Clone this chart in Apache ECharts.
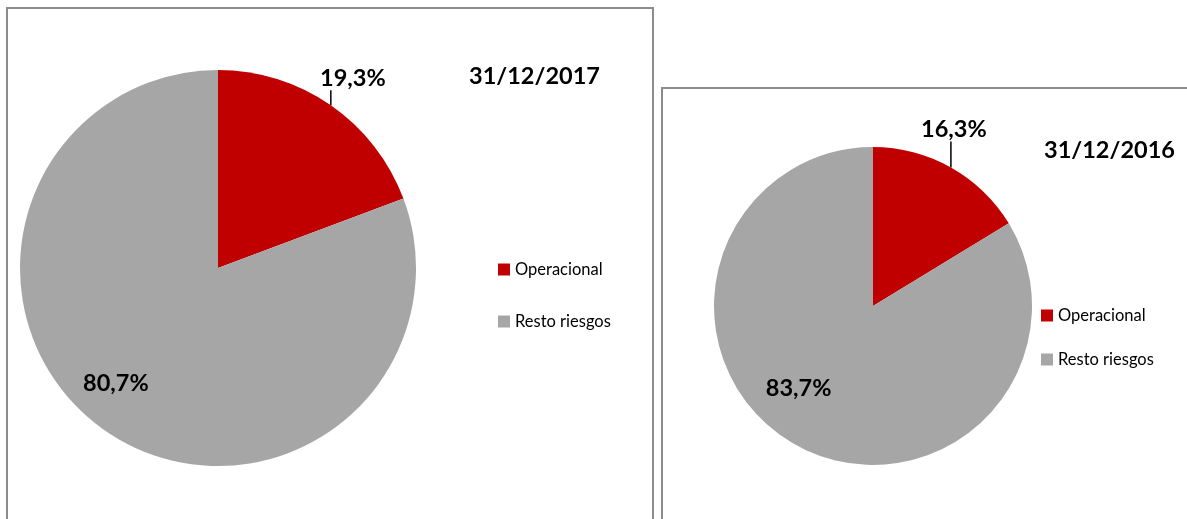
<!DOCTYPE html>
<html>
<head>
<meta charset="utf-8">
<script src="https://cdn.jsdelivr.net/npm/echarts@6/dist/echarts.min.js"></script>
<style>
html, body { margin: 0; padding: 0; background: #fff; }
#main { width: 1187px; height: 519px; }
</style>
</head>
<body>
<div id="main"></div>
<script>
var categories = ['Operacional', 'Resto riesgos'];
var values2017 = [19.3, 80.7];
var values2016 = [16.3, 83.7];
var dates = ['31/12/2017', '31/12/2016'];
var colors = ['#C00000', '#A6A6A6'];

var myChart = echarts.init(document.getElementById('main'));
var fontName = 'Lato';

function pct(p) {
    return p.value.toFixed(1).replace('.', ',') + '%';
}

// etiqueta de arriba con linea vertical
function topLabel(len, dx) {
    return function (p) {
        if (p.dataIndex !== 0 || !p.labelLinePoints) return {};
        var x0 = p.labelLinePoints[0][0], y0 = p.labelLinePoints[0][1];
        return {
            x: x0 + dx,
            y: y0 - len,
            align: 'center',
            verticalAlign: 'bottom',
            labelLinePoints: [[x0, y0], [x0, y0 - len], [x0, y0 - len]]
        };
    };
}

function makeData(vals, innerOffset) {
    return categories.map(function (c, i) {
        var d = { name: c, value: vals[i], itemStyle: { color: colors[i] } };
        if (i === 1) {
            d.label = { position: 'inside', offset: innerOffset };
            d.labelLine = { show: false };
        }
        return d;
    });
}

var labelStyle = {
    show: true,
    formatter: pct,
    fontFamily: fontName,
    fontWeight: 'bold',
    fontSize: 23.5,
    color: '#000',
    position: 'outside'
};

var titleStyle = { fontFamily: fontName, fontWeight: 'bold', fontSize: 23.5, color: '#000' };
var legendText = { fontFamily: fontName, fontSize: 16.5, color: '#000' };

var option = {
    animation: false,
    title: [
        { text: dates[0], left: 464, top: 59, textStyle: titleStyle },
        { text: dates[1], left: 1039, top: 133, textStyle: titleStyle }
    ],
    legend: [
        {
            data: categories, orient: 'vertical', left: 493, top: 256,
            icon: 'rect', itemWidth: 12, itemHeight: 12, itemGap: 35, itemStyle: { borderWidth: 0 },
            textStyle: legendText, selectedMode: false
        },
        {
            data: categories, orient: 'vertical', left: 1036, top: 302,
            icon: 'rect', itemWidth: 12, itemHeight: 12, itemGap: 27, itemStyle: { borderWidth: 0 },
            textStyle: legendText, selectedMode: false
        }
    ],
    graphic: [
        { type: 'rect', shape: { x: 7, y: 8, width: 646, height: 540 }, style: { fill: 'none', stroke: '#8c8c8c', lineWidth: 2 }, silent: true },
        { type: 'rect', shape: { x: 662, y: 88, width: 560, height: 460 }, style: { fill: 'none', stroke: '#8c8c8c', lineWidth: 2 }, silent: true }
    ],
    series: [
        {
            name: dates[0], type: 'pie', center: [218, 268], radius: 198,
            startAngle: 90, clockwise: true, avoidLabelOverlap: false,
            label: labelStyle,
            labelLine: { show: true, length: 14, length2: 0, lineStyle: { color: '#000', width: 1.5 } },
            labelLayout: topLabel(15, 22),
            emphasis: { disabled: true },
            data: makeData(values2017, [-44, 32])
        },
        {
            name: dates[1], type: 'pie', center: [873, 306], radius: 159,
            startAngle: 90, clockwise: true, avoidLabelOverlap: false,
            label: labelStyle,
            labelLine: { show: true, length: 20, length2: 0, lineStyle: { color: '#000', width: 1.5 } },
            labelLayout: topLabel(26, 3),
            emphasis: { disabled: true },
            data: makeData(values2016, [-34, 11])
        }
    ]
};

myChart.setOption(option);
</script>
</body>
</html>
